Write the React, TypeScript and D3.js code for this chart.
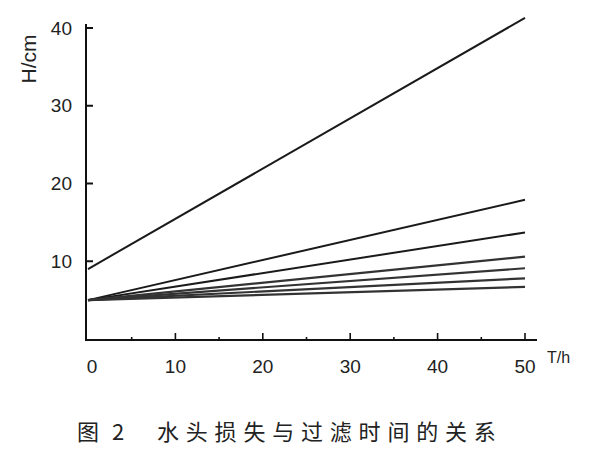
import React from "react";
import * as d3 from "d3";

const times = [0, 50];
const seriesStart = [9.0, 5.0, 5.0, 5.0, 5.0, 5.0, 5.0];
const seriesEnd = [41.3, 17.9, 13.7, 10.6, 9.1, 7.8, 6.7];
const xTicks = [0, 10, 20, 30, 40, 50];
const xMinorTicks = [5, 15, 25, 35, 45];
const yTicks = [10, 20, 30, 40];
const yLabel = "H/cm";
const xLabel = "T/h";
const captionFig = "图 2";
const captionText = "水头损失与过滤时间的关系";

export default function App() {
  const W = 600, H = 450;
  const x = d3.scaleLinear().domain([0, 50]).range([88, 525]);
  const y = d3.scaleLinear().domain([0, 40]).range([339, 28]);
  const line = d3.line<[number, number]>().x(d => x(d[0])).y(d => y(d[1]));
  const font = "'Liberation Sans', 'DejaVu Sans', sans-serif";
  const cjk = "'Noto Sans CJK SC', sans-serif";
  return (
    <svg width={W} height={H} style={{ position: "absolute", left: 0, top: 0, background: "#fff" }}>
      {/* axes */}
      <line x1={86} y1={24} x2={86} y2={341} stroke="#111" strokeWidth={2} />
      <line x1={86} y1={340} x2={537} y2={340} stroke="#111" strokeWidth={2} />
      {yTicks.map(t => (
        <g key={"y" + t}>
          <line x1={86} x2={93} y1={y(t)} y2={y(t)} stroke="#111" strokeWidth={2} />
          <text x={72} y={y(t)} dy="0.35em" textAnchor="end" fontFamily={font} fontSize={19} fill="#222">{t}</text>
        </g>
      ))}
      {xTicks.map(t => (
        <g key={"x" + t}>
          {t > 0 && <line x1={x(t)} x2={x(t)} y1={340} y2={333} stroke="#111" strokeWidth={1.6} />}
          <text x={x(t) + (t === 0 ? 4 : 0)} y={366} dy="0.35em" textAnchor="middle" fontFamily={font} fontSize={19} fill="#222">{t}</text>
        </g>
      ))}
      {xMinorTicks.map(t => (
        <line key={"m" + t} x1={x(t)} x2={x(t)} y1={340} y2={337} stroke="#111" strokeWidth={1.6} />
      ))}
      {/* lines */}
      {seriesStart.map((s, i) => (
        <path key={"l" + i}
          d={line([[times[0], s], [times[1], seriesEnd[i]]]) || ""}
          fill="none" stroke={i < 3 ? "#1a1a1a" : "#333"} strokeWidth={i < 3 ? 2 : 2.2} />
      ))}
      <text transform="translate(29,59) rotate(-90)" textAnchor="middle" dy="0.35em" fontFamily={font} fontSize={21} fill="#222">{yLabel}</text>
      <text x={547} y={357} dy="0.35em" fontFamily={font} fontSize={16} fill="#222">{xLabel}</text>
      <text x={77} y={432} dy="0.35em" fontFamily={cjk} fontSize={22} letterSpacing={4} fill="#222" style={{ whiteSpace: "pre" }}>{captionFig}</text>
      <text x={157} y={432} dy="0.35em" fontFamily={cjk} fontSize={22} letterSpacing={6.8} fill="#222">{captionText}</text>
    </svg>
  );
}
